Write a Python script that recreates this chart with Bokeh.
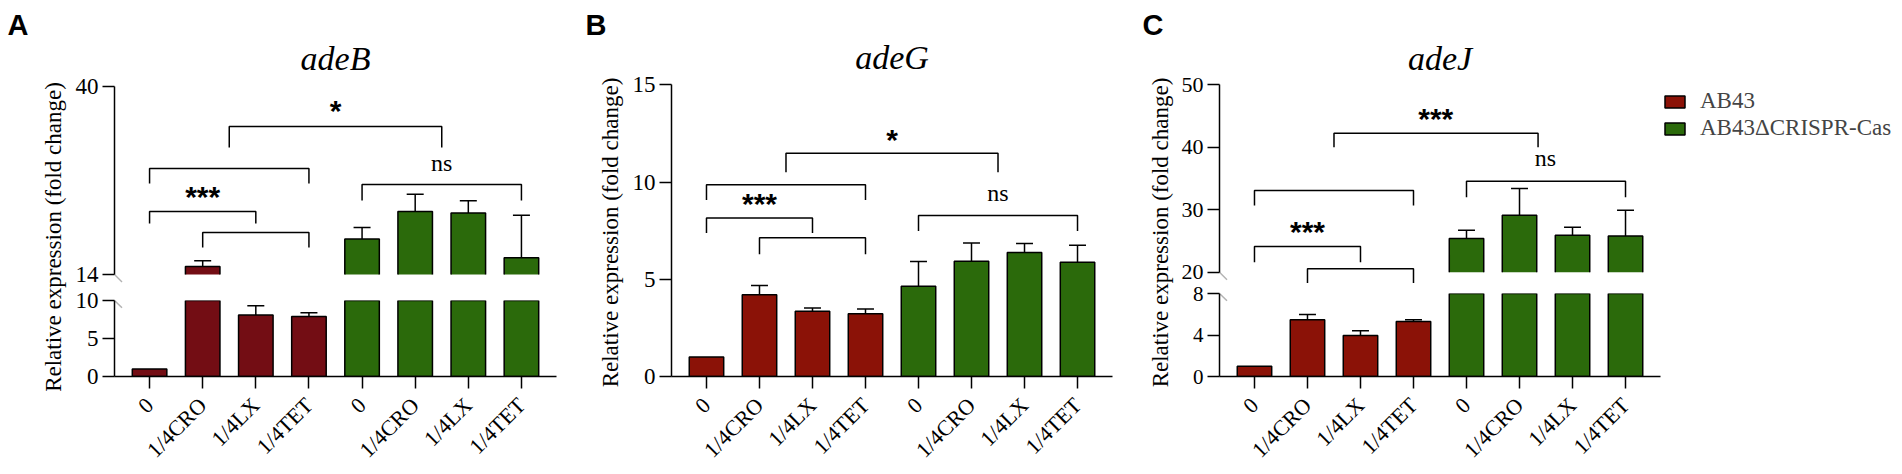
import numpy as np
from math import pi
from bokeh.plotting import figure
from bokeh.models import (Range1d, LinearAxis, FixedTicker, PolyAnnotation,
                          Legend, LegendItem, ColumnDataSource)
from bokeh.layouts import row, column
from bokeh.core.properties import value
from bokeh.embed import file_html
from bokeh.resources import INLINE

# ---------------- data ----------------
conditions = ["0", "1/4CRO", "1/4LX", "1/4TET"]
strains = ["AB43", "AB43ΔCRISPR-Cas"]
genes = ["adeB", "adeG", "adeJ"]
panel_letters = ["A", "B", "C"]
y_title = "Relative expression (fold change)"
tick_labels = conditions + conditions

adeB_ab43 = [1.0, 15.1, 8.1, 7.9]
adeB_ab43_sd = [0.0, 0.8, 1.2, 0.5]
adeB_del = [18.9, 22.7, 22.5, 16.3]
adeB_del_sd = [1.6, 2.4, 1.7, 5.9]

adeG_ab43 = [1.0, 4.2, 3.35, 3.23]
adeG_ab43_sd = [0.0, 0.48, 0.17, 0.24]
adeG_del = [4.64, 5.93, 6.38, 5.88]
adeG_del_sd = [1.28, 0.94, 0.46, 0.87]

adeJ_ab43 = [1.0, 5.47, 3.95, 5.31]
adeJ_ab43_sd = [0.0, 0.5, 0.45, 0.16]
adeJ_del = [25.4, 29.1, 25.9, 25.8]
adeJ_del_sd = [1.3, 4.3, 1.3, 4.1]

# significance brackets: (from bar, to bar, bracket level, leg end)
adeB_brackets = [(1.5, 5.5, 34.47, 31.56), (4, 7, 26.45, 24.23), (0, 3, 28.66, 26.58),
                 (0, 2, 22.71, 21.05), (1, 3, 19.81, 17.73)]
adeB_marks = [("*", 3.5, 34.54), ("ns", 5.5, 28.38), ("***", 1.0, 22.71)]

adeG_brackets = [(1.5, 5.5, 11.48, 10.51), (0, 3, 9.86, 9.08), (0, 2, 8.15, 7.38),
                 (1, 3, 7.13, 6.29), (4, 7, 8.28, 7.48)]
adeG_marks = [("*", 3.5, 11.44), ("***", 1.0, 8.15), ("ns", 5.5, 9.05)]

adeJ_brackets = [(1.5, 5.35, 42.25, 40.01), (4, 7, 34.57, 32.01), (0, 3, 33.08, 30.68),
                 (0, 2, 24.11, 21.6), (1, 3, 20.54, 18.03)]
adeJ_marks = [("***", 3.42, 42.16), ("***", 1.0, 24.07), ("ns", 5.49, 37.08)]

# ---------------- style ----------------
SERIF = "Liberation Serif"
SANS = "Liberation Sans"
RED_A = "#730d14"
RED = "#8b1207"
GREEN = "#2b6a0b"
x_pos = np.arange(8)
X_RANGE = (-0.66, 7.66)
BAR_W = 0.65
CAP = 0.16
LW = 1.5
PAGE_H = 474
BASE_SHIFT = 0.3  # em: empirical correction of the alphabetic baseline
LIFT_STAR = 15    # px
LIFT_NS = BASE_SHIFT * 24
LIFT_TITLE = BASE_SHIFT * 34


def y_span(v_lo, py_lo, v_hi, py_hi, py_top, py_bot):
    k = (py_lo - py_hi) / (v_hi - v_lo)
    return (v_lo - (py_bot - py_lo) / k, v_hi + (py_hi - py_top) / k), k


def new_fig(w, h, yr, left, right, top, bottom, xr=X_RANGE):
    p = figure(width=w, height=h, x_range=Range1d(*xr), y_range=Range1d(*yr),
               output_backend="svg", toolbar_location=None,
               x_axis_location=None, y_axis_location=None,
               min_border_left=left, min_border_right=right,
               min_border_top=top, min_border_bottom=bottom)
    p.outline_line_color = None
    p.grid.visible = False
    return p


def style_axis(ax):
    ax.axis_line_width = LW
    ax.axis_line_color = "black"
    ax.major_tick_line_width = LW
    ax.major_tick_line_color = "black"
    ax.minor_tick_line_color = None
    ax.major_tick_in = 0
    ax.major_label_text_font = SERIF
    ax.major_label_text_color = "black"


def add_y_axis(p, ticks, bounds, size="23px"):
    ax = LinearAxis(ticker=FixedTicker(ticks=ticks), bounds=bounds)
    style_axis(ax)
    ax.major_tick_out = 12
    ax.major_label_standoff = 4
    ax.major_label_text_font_size = size
    p.add_layout(ax, "left")


def add_x_axis(p):
    ax = LinearAxis(ticker=FixedTicker(ticks=[int(i) for i in x_pos]),
                    major_label_overrides={int(i): t for i, t in zip(x_pos, tick_labels)})
    style_axis(ax)
    ax.major_tick_out = 12
    ax.major_label_standoff = 13
    ax.major_label_text_font_size = "22px"
    ax.major_label_orientation = pi / 4
    p.add_layout(ax, "below")


def draw_segment(p, vals_r, sd_r, vals_g, sd_g, red, lo, hi, open_bottom=False):
    """Draw the part of every bar / error bar that falls in the y segment [lo, hi]."""
    for xs, vals, sds, color in ((x_pos[:4], vals_r, sd_r, red), (x_pos[4:], vals_g, sd_g, GREEN)):
        v = np.asarray(vals, float)
        e = np.asarray(sds, float)
        xf = xs.astype(float)
        # bars running past the top of the segment get their top edge outside the frame
        top = np.where(v > lo, np.where(v > hi, hi + (hi - lo), v), np.nan)
        src = ColumnDataSource(dict(x=xf, top=top, bottom=np.full(4, float(lo))))
        if open_bottom:
            p.vbar(x="x", top="top", bottom="bottom", width=BAR_W, source=src,
                   fill_color=color, line_color=None)
            keep = [i for i in range(4) if v[i] > lo]
            p.multi_line(xs=[[xf[i] - BAR_W / 2, xf[i] - BAR_W / 2, xf[i] + BAR_W / 2, xf[i] + BAR_W / 2] for i in keep],
                         ys=[[lo, top[i], top[i], lo] for i in keep],
                         line_color="black", line_width=LW)
        else:
            p.vbar(x="x", top="top", bottom="bottom", width=BAR_W, source=src,
                   fill_color=color, line_color="black", line_width=LW)
        ok = (v > lo) & (v < hi) & (e > 0)
        ev = np.where(ok, v + e, np.nan)
        vv = np.where(ok, v, np.nan)
        p.segment(x0=xf, y0=vv, x1=xf, y1=ev, line_color="black", line_width=LW)
        p.segment(x0=xf - CAP, y0=ev, x1=xf + CAP, y1=ev, line_color="black", line_width=LW)


def draw_brackets(p, brackets):
    xs = [[a, a, b, b] for a, b, t, l in brackets]
    ys = [[l, t, t, l] for a, b, t, l in brackets]
    p.multi_line(xs=xs, ys=ys, line_color="black", line_width=LW)


def draw_marks(p, marks, k):
    for txt, x, y in marks:
        star = "*" in txt
        lift = (LIFT_STAR if star else LIFT_NS) / k
        p.text(x=[x], y=[y + lift], text=[txt], text_align="center", text_baseline="alphabetic",
               text_font=value(SANS if star else SERIF),
               text_font_style="bold" if star else "normal",
               text_font_size="30px" if star else "24px", text_color="black")


def draw_title(p, gene, y, k):
    p.text(x=[3.5], y=[y + LIFT_TITLE / k], text=[gene], text_align="center",
           text_baseline="alphabetic", text_font=value(SERIF), text_font_style="italic",
           text_font_size="34px", text_color="black")


def break_mark(p, y, frame_w, k):
    dx = 7.5 / (frame_w / (X_RANGE[1] - X_RANGE[0]))
    dy = 7.5 / k
    x0 = X_RANGE[0]
    p.add_layout(PolyAnnotation(xs=[x0 - dx, x0 + dx], ys=[y + dy, y - dy],
                                fill_color=None, fill_alpha=0,
                                line_color="black", line_width=LW))


def label_fig(x0, x1, letter, letter_x, ylab_base_x, ylab_py):
    p = figure(width=x1 - x0, height=PAGE_H, x_range=Range1d(x0, x1), y_range=Range1d(0, PAGE_H),
               output_backend="svg", toolbar_location=None,
               x_axis_location=None, y_axis_location=None,
               min_border_left=0, min_border_right=0, min_border_top=0, min_border_bottom=0)
    p.outline_line_color = None
    p.grid.visible = False
    p.text(x=[letter_x], y=[PAGE_H - 33 + BASE_SHIFT * 29], text=[letter], text_align="left",
           text_baseline="alphabetic", text_font=value(SANS), text_font_style="bold",
           text_font_size="29px", text_color="black")
    p.text(x=[ylab_base_x - BASE_SHIFT * 23], y=[PAGE_H - ylab_py], text=[y_title], angle=pi / 2,
           text_align="center", text_baseline="alphabetic", text_font=value(SERIF),
           text_font_size="23px", text_color="black")
    return p


# ---------------- panel A (adeB, broken axis 0-10 / 14-40) ----------------
labA = label_fig(0, 70, panel_letters[0], 7, 60, 236.5)
yrA_up, kA_up = y_span(14, 274, 40, 86, 0, 287)
upA = new_fig(510, 287, yrA_up, 44, 24, 0, 0)
add_y_axis(upA, [14, 40], (14, 40))
draw_segment(upA, adeB_ab43, adeB_ab43_sd, adeB_del, adeB_del_sd, RED_A, 14, 40, open_bottom=True)
draw_brackets(upA, adeB_brackets)
draw_marks(upA, adeB_marks, kA_up)
draw_title(upA, genes[0], 40 + (86 - 68) / kA_up, kA_up)
break_mark(upA, 14, 442, kA_up)

loA = new_fig(510, 187, (0, 10), 44, 24, 13, 95)
add_y_axis(loA, [0, 5, 10], (0, 10))
add_x_axis(loA)
draw_segment(loA, adeB_ab43, adeB_ab43_sd, adeB_del, adeB_del_sd, RED_A, 0, 10)
break_mark(loA, 10, 442, 79 / 10)

# ---------------- panel B (adeG) ----------------
labB = label_fig(580, 626, panel_letters[1], 585, 616.7, 232)
yrB, kB = y_span(0, 379, 15, 85, 0, 379)
figB = new_fig(514, PAGE_H, yrB, 45, 28, 0, 95)
add_y_axis(figB, [0, 5, 10, 15], (0, 15))
add_x_axis(figB)
draw_segment(figB, adeG_ab43, adeG_ab43_sd, adeG_del, adeG_del_sd, RED, 0, 15)
draw_brackets(figB, adeG_brackets)
draw_marks(figB, adeG_marks, kB)
draw_title(figB, genes[1], 15 + (85 - 68) / kB, kB)

# ---------------- panel C (adeJ, broken axis 0-8 / 20-50) ----------------
labC = label_fig(1140, 1178, panel_letters[2], 1142, 1166.7, 232)
yrC_up, kC_up = y_span(20, 271.7, 50, 84.3, 0, 283)
upC = new_fig(484, 283, yrC_up, 41, 2, 0, 0)
add_y_axis(upC, [20, 30, 40, 50], (20, 50), size="22px")
draw_segment(upC, adeJ_ab43, adeJ_ab43_sd, adeJ_del, adeJ_del_sd, RED, 20, 50, open_bottom=True)
draw_brackets(upC, adeJ_brackets)
draw_marks(upC, adeJ_marks, kC_up)
draw_title(upC, genes[2], 50 + (84.3 - 68) / kC_up, kC_up)
break_mark(upC, 20, 441, kC_up)

loC = new_fig(484, 191, (0, 8), 41, 2, 10, 96)
add_y_axis(loC, [0, 4, 8], (0, 8), size="21px")
add_x_axis(loC)
draw_segment(loC, adeJ_ab43, adeJ_ab43_sd, adeJ_del, adeJ_del_sd, RED, 0, 8)
break_mark(loC, 8, 441, 85 / 8)

# ---------------- legend ----------------
legF = new_fig(240, PAGE_H, (0, 1), 0, 0, 88, 0, xr=(0, 1))
leg_r = [legF.vbar(x=[np.nan], top=[np.nan], width=0.5, fill_color=c,
                   line_color="black", line_width=LW) for c in (RED, GREEN)]
legend = Legend(items=[LegendItem(label=s, renderers=[r]) for s, r in zip(strains, leg_r)],
                location="top_left", orientation="vertical",
                glyph_width=25, glyph_height=15, label_standoff=13,
                label_text_font=SERIF, label_text_font_size="23px",
                padding=0, margin=0, spacing=1,
                border_line_color=None, background_fill_alpha=0)
legF.add_layout(legend)

# every figure sits in its own column so that the row does not align their borders
layout = row(column(labA), column(upA, loA), column(labB), column(figB),
             column(labC), column(upC, loC), column(legF))

open("out.html", "w").write(file_html(layout, INLINE))
